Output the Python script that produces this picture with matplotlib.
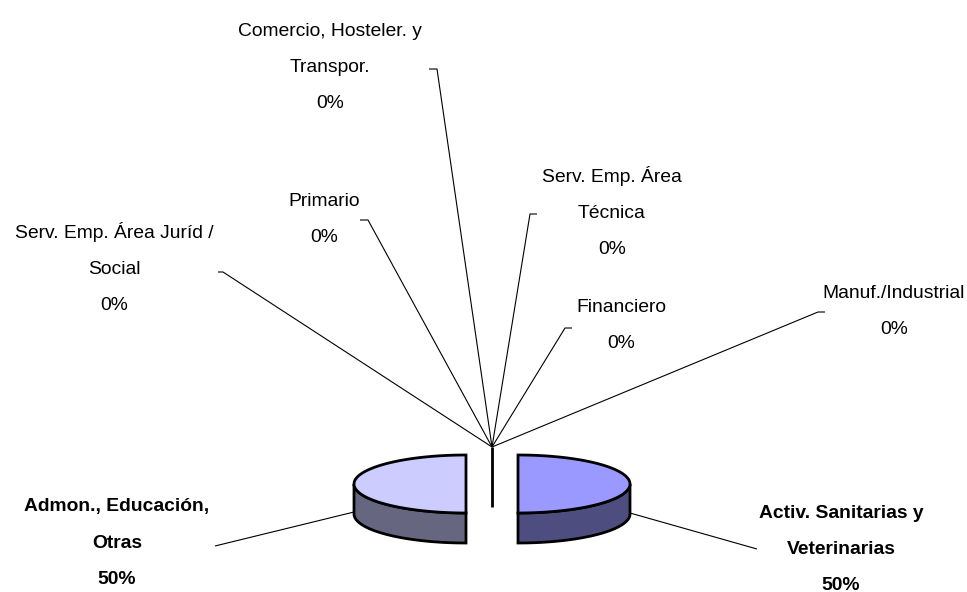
import numpy as np
import matplotlib
matplotlib.use("Agg")
import matplotlib.pyplot as plt
from matplotlib.patches import Polygon

plt.rcParams['font.family'] = ['Liberation Sans', 'DejaVu Sans']

# --- data ---
categories = ["Activ. Sanitarias y\nVeterinarias", "Manuf./Industrial", "Financiero",
              "Serv. Emp. Área\nTécnica", "Comercio, Hosteler. y\nTranspor.", "Primario",
              "Serv. Emp. Área Juríd /\nSocial", "Admon., Educación,\nOtras"]
values = [50, 0, 0, 0, 0, 0, 0, 50]
percent_labels = ["50%", "0%", "0%", "0%", "0%", "0%", "0%", "50%"]
bold_flags = [True, False, False, False, False, False, False, True]

# --- layout (pixels) ---
W, H = 967, 592
CX, CY, RX, RY, DEPTH, EXPLODE = 492, 484, 112, 29, 30, 26
HUB_Y = 447
LINE_PX = 36
label_xy = [(841, 547), (894, 309), (621, 323), (612, 211), (330, 66), (324, 217), (114, 268), (117, 541)]
leaders = [[(630, 513), (757, 549)],
           [(492, HUB_Y), (818, 312), (825, 312)],
           [(492, HUB_Y), (565, 328), (572, 328)],
           [(492, HUB_Y), (530, 214), (537, 214)],
           [(492, HUB_Y), (437, 69), (429, 69)],
           [(492, HUB_Y), (368, 220), (360, 220)],
           [(492, HUB_Y), (223, 272), (218, 272)],
           [(354, 512), (215, 546)]]
top_colors = {0: "#9999FF", 7: "#CCCCFF"}
side_colors = {0: "#4D4D80", 7: "#666680"}

fig = plt.figure(figsize=(W / 100, H / 100), dpi=100, facecolor="white")
ax = fig.add_axes([0, 0, 1, 1])
ax.set_xlim(0, W)
ax.set_ylim(H, 0)
ax.axis("off")

# leader lines
for pts in leaders:
    xs, ys = zip(*pts)
    ax.plot(xs, ys, color="black", lw=0.8, solid_capstyle="butt", zorder=1)

# slices: angles follow the values, clockwise from 12 o'clock
total = sum(values)
start = 0.0
for i, v in enumerate(values):
    sweep = 360.0 * v / total
    if v > 0:
        mid = np.radians(start + sweep / 2)
        cx = CX + EXPLODE * np.sin(mid)
        th = np.radians(np.linspace(start, start + sweep, 120))
        x = cx + RX * np.sin(th)
        y = CY - RY * np.cos(th)
        # side wall: lower half of the rim, extruded downward
        low = y >= CY - 0.01
        rx_, ry_ = x[low], y[low]
        side = np.r_[np.c_[rx_, ry_], np.c_[rx_, ry_ + DEPTH][::-1]]
        ax.add_patch(Polygon(side, closed=True, fc=side_colors[i], ec="black", lw=2, joinstyle="miter", zorder=3))
        ax.add_patch(Polygon(np.c_[x, y], closed=True, fc=top_colors[i], ec="black", lw=2, joinstyle="miter", zorder=4))
    start += sweep

# collapsed zero-value slices
ax.plot([CX, CX], [HUB_Y, CY + RY - 6], color="black", lw=2, solid_capstyle="butt", zorder=2)

# labels, one text per line so the line pitch is exact
for name, pct, b, (lx, ly) in zip(categories, percent_labels, bold_flags, label_xy):
    lines = (name + "\n" + pct).split("\n")
    top = ly - LINE_PX * (len(lines) - 1) / 2
    for k, line in enumerate(lines):
        ax.text(lx, top + k * LINE_PX + 6.5, line, ha="center", va="baseline",
                fontsize=13.9, color="black",
                fontweight="bold" if b else "normal", zorder=6)

fig.savefig("out.png", dpi=100, facecolor="white")
